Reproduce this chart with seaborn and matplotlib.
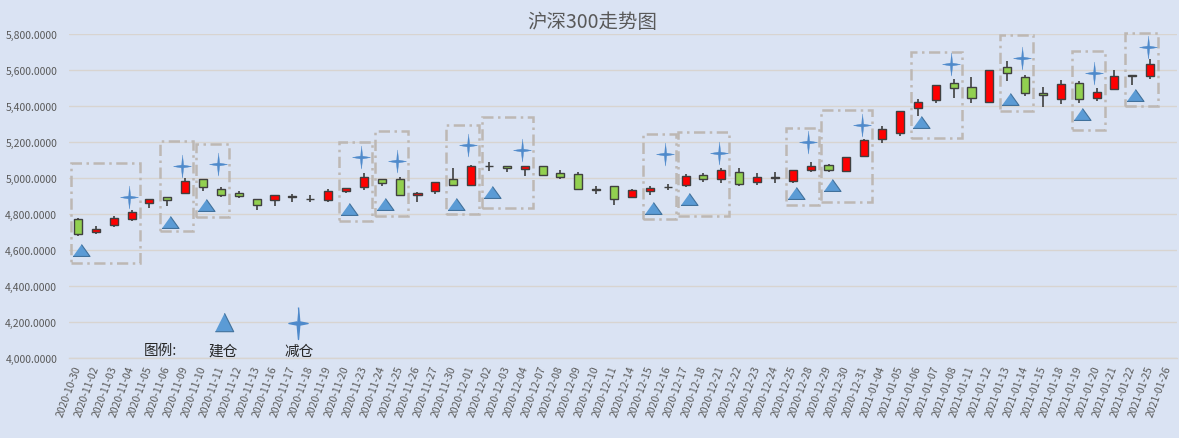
import matplotlib
matplotlib.use("Agg")
import matplotlib.pyplot as plt
from matplotlib.patches import Rectangle
from matplotlib.ticker import FuncFormatter, MultipleLocator
import numpy as np
import pandas as pd
import seaborn as sns

### data ###
dates = ["2020-10-30", "2020-11-02", "2020-11-03", "2020-11-04", "2020-11-05", "2020-11-06",
         "2020-11-09", "2020-11-10", "2020-11-11", "2020-11-12", "2020-11-13", "2020-11-16",
         "2020-11-17", "2020-11-18", "2020-11-19", "2020-11-20", "2020-11-23", "2020-11-24",
         "2020-11-25", "2020-11-26", "2020-11-27", "2020-11-30", "2020-12-01", "2020-12-02",
         "2020-12-03", "2020-12-04", "2020-12-07", "2020-12-08", "2020-12-09", "2020-12-10",
         "2020-12-11", "2020-12-14", "2020-12-15", "2020-12-16", "2020-12-17", "2020-12-18",
         "2020-12-21", "2020-12-22", "2020-12-23", "2020-12-24", "2020-12-25", "2020-12-28",
         "2020-12-29", "2020-12-30", "2020-12-31", "2021-01-04", "2021-01-05", "2021-01-06",
         "2021-01-07", "2021-01-08", "2021-01-11", "2021-01-12", "2021-01-13", "2021-01-14",
         "2021-01-15", "2021-01-18", "2021-01-19", "2021-01-20", "2021-01-21", "2021-01-22",
         "2021-01-25", "2021-01-26"]

open_ = [4772, 4700, 4739, 4776, 4861, 4894, 4917, 4994, 4939, 4917, 4883, 4878,
         4897, 4884, 4878, 4928, 4953, 4994, 4994, 4906, 4928, 4994, 4961, 5071,
         5067, 5050, 5067, 5028, 5022, 4938, 4956, 4898, 4931, 4952, 4961, 5017,
         4994, 5033, 4978, 5003, 4983, 5044, 5074, 5039, 5122, 5217, 5250, 5389,
         5433, 5528, 5506, 5422, 5617, 5561, 5472, 5439, 5528, 5444, 5494, 5572,
         5567, np.nan]
high = [4780, 4733, 4790, 4824, 4885, 4898, 5000, 4998, 4953, 4928, 4885, 4910,
        4913, 4907, 4939, 4946, 5028, 4998, 5006, 4926, 4980, 5056, 5074, 5089,
        5069, 5069, 5069, 5044, 5033, 4959, 4958, 4942, 4959, 4968, 5024, 5029,
        5056, 5056, 5028, 5033, 5046, 5089, 5079, 5118, 5218, 5289, 5372, 5439,
        5517, 5550, 5561, 5600, 5650, 5572, 5506, 5544, 5539, 5500, 5600, 5573,
        5661, np.nan]
low = [4681, 4690, 4731, 4765, 4837, 4844, 4915, 4928, 4898, 4889, 4822, 4848,
       4867, 4870, 4867, 4920, 4937, 4959, 4909, 4867, 4915, 4961, 4961, 5042,
       5033, 5014, 5014, 4998, 4940, 4915, 4850, 4890, 4906, 4937, 4950, 4978,
       4974, 4959, 4965, 4974, 4972, 5037, 5033, 5037, 5120, 5194, 5233, 5344,
       5418, 5444, 5418, 5422, 5539, 5459, 5394, 5411, 5417, 5428, 5494, 5517,
       5550, np.nan]
close = [4692, 4718, 4779, 4813, 4883, 4881, 4983, 4953, 4906, 4903, 4853, 4906,
         4899, 4886, 4928, 4944, 5006, 4972, 4909, 4917, 4978, 4961, 5067, 5069,
         5056, 5067, 5020, 5009, 4942, 4936, 4887, 4935, 4944, 4954, 5014, 4998,
         5046, 4967, 5006, 5005, 5044, 5068, 5044, 5117, 5211, 5274, 5372, 5422,
         5517, 5500, 5444, 5600, 5583, 5472, 5461, 5522, 5439, 5478, 5567, 5570,
         5633, np.nan]

# 建仓 (triangles) and 减仓 (stars): category index and value
buy_idx = [0, 5, 7, 15, 17, 21, 23, 32, 34, 40, 42, 47, 52, 56, 59]
buy_val = [4602, 4757, 4850, 4831, 4856, 4856, 4924, 4835, 4885, 4919, 4961, 5313, 5440, 5355, 5461]
sell_idx = [3, 6, 8, 16, 18, 22, 25, 33, 36, 41, 44, 49, 53, 57, 60]
sell_val = [4898, 5067, 5078, 5120, 5096, 5187, 5157, 5137, 5139, 5203, 5298, 5633, 5670, 5587, 5729]

# dash-dot frames around each trade
box_top = [5083, 5209, 5190, 5200, 5264, 5298, 5339, 5246, 5256, 5281, 5378, 5703, 5796, 5709, 5806]
box_bot = [4529, 4709, 4783, 4761, 4789, 4802, 4835, 4774, 4789, 4852, 4867, 5222, 5376, 5268, 5400]

df = pd.DataFrame({"date": dates, "open": open_, "high": high, "low": low, "close": close})
df["x"] = np.arange(len(df))
df["up"] = df["close"] >= df["open"]

### style ###
bg = "#DAE3F3"
grid_c = "#D8D4D0"
txt_c = "#595959"
sns.set_theme(style="white")
plt.rcParams["font.family"] = ["Noto Sans CJK SC", "DejaVu Sans"]

fig = plt.figure(figsize=(11.79, 4.39), dpi=100, facecolor=bg)
ax = fig.add_axes([69 / 1179, 1 - 359.3 / 439, 1108 / 1179, (359.3 - 35.3) / 439])
ax.set_facecolor(bg)

### candles ###
ax.vlines(df["x"], df["low"], df["high"], color="#404040", linewidth=1.2, zorder=3)
body_lo = df[["open", "close"]].min(axis=1)
body_h = (df["close"] - df["open"]).abs()
colors = np.where(df["up"], "#FF0000", "#92D050")
ax.bar(df["x"], body_h, bottom=body_lo, width=0.45, color=colors,
       edgecolor="#404040", linewidth=1.0, zorder=4)

### markers ###
tri = [(-1, -0.7), (1, -0.7), (0, 0.7)]
star = [(0, 1), (0.1, 0.12), (0.78, 0), (0.1, -0.12), (0, -1),
        (-0.1, -0.12), (-0.78, 0), (-0.1, 0.12)]
sns.scatterplot(x=np.array(buy_idx) + 0.17, y=buy_val, marker=tri, s=150,
                color="#5B9BD5", edgecolor="#41719C", linewidth=0.8, ax=ax, zorder=5)
sns.scatterplot(x=np.array(sell_idx) - 0.15, y=sell_val, marker=star, s=275,
                color="#4F8ACB", edgecolor="#4F8ACB", linewidth=0.3, ax=ax, zorder=5)

for b, s, t, lo in zip(buy_idx, sell_idx, box_top, box_bot):
    ax.add_patch(Rectangle((b - 0.4, lo), s - b + 0.85, t - lo, fill=False,
                           edgecolor="#BDB8B4", linewidth=1.8,
                           linestyle=(0, (4.5, 1.8, 1, 1.8)), zorder=2, clip_on=False))

### in-plot legend ###
leg_tri = [(-1, -1), (1, -1), (0, 1)]
leg_star = [(0, 1), (0.08, 0.1), (0.6, 0), (0.08, -0.1), (0, -1),
            (-0.08, -0.1), (-0.6, 0), (-0.08, 0.1)]
ax.scatter([8.17], [4200], marker=leg_tri, s=175, color="#5B9BD5",
           edgecolor="#41719C", linewidth=0.8, zorder=5)
ax.scatter([12.34], [4195], marker=leg_star, s=530, color="#4F8ACB", zorder=5)
ax.text(4.6, 4045, "图例:", fontsize=10.5, color="#262626", ha="center", va="center")
ax.text(8.15, 4042, "建仓", fontsize=10.5, color="#262626", ha="center", va="center")
ax.text(12.4, 4042, "减仓", fontsize=10.5, color="#262626", ha="center", va="center")

### axes format ###
ax.set_xlim(-0.5, len(df) - 0.5)
ax.set_ylim(4000, 5800)
ax.yaxis.set_major_locator(MultipleLocator(200))
ax.yaxis.set_major_formatter(FuncFormatter(lambda v, p: f"{v:,.4f}"))
ax.grid(axis="y", color=grid_c, linewidth=1.0, zorder=0)
ax.set_axisbelow(True)
for sp in ["top", "right", "left"]:
    ax.spines[sp].set_visible(False)
ax.spines["bottom"].set_color(grid_c)
ax.spines["bottom"].set_linewidth(1.0)

ax.set_xticks(df["x"])
ax.set_xticklabels(df["date"], rotation=70, ha="right", va="center",
                   rotation_mode="anchor", fontsize=7.5, color=txt_c)
ax.set_xticks(np.arange(-0.5, len(df), 1), minor=True)
ax.tick_params(axis="x", which="major", length=0, pad=5)
ax.tick_params(axis="x", which="minor", length=3.5, color=grid_c, width=1, direction="out")
ax.tick_params(axis="y", length=0, pad=8.5, labelsize=7.5, labelcolor=txt_c)
ax.set_xlabel("")
ax.set_ylabel("")

fig.text(592 / 1179, 1 - 22 / 439, "沪深300走势图", fontsize=14, color=txt_c,
         ha="center", va="center")

fig.savefig("out.png", dpi=100, facecolor=bg)
